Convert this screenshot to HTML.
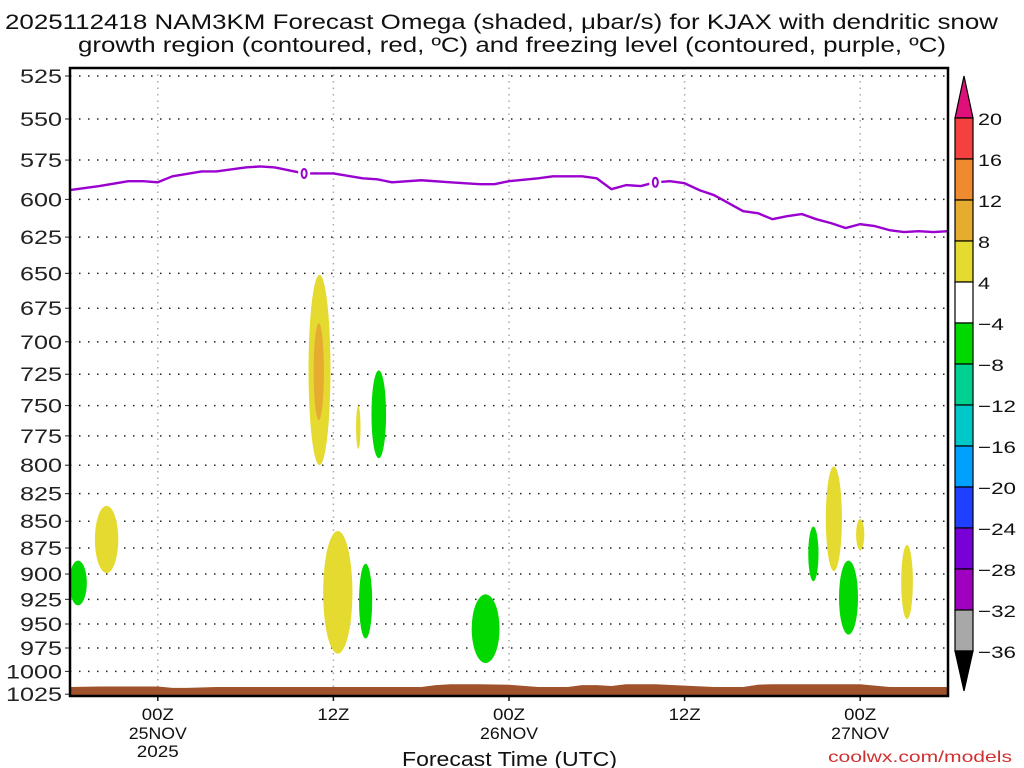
<!DOCTYPE html>
<html><head><meta charset="utf-8"><style>
html,body{margin:0;padding:0;background:#fff;width:1024px;height:768px;overflow:hidden}
svg text{font-family:"Liberation Sans",sans-serif}
</style></head><body>
<svg id="chart" width="1024" height="768" viewBox="0 0 1024 768" xmlns="http://www.w3.org/2000/svg">
<text x="5" y="29" font-size="21" textLength="993" lengthAdjust="spacingAndGlyphs" fill="#111">2025112418 NAM3KM Forecast Omega (shaded, μbar/s) for KJAX with dendritic snow</text>
<text x="78" y="52" font-size="21" textLength="868" lengthAdjust="spacingAndGlyphs" fill="#111">growth region (contoured, red, ºC) and freezing level (contoured, purple, ºC)</text>
<g id="grid"></g><g id="marks"></g><g id="axes"></g><g id="cbar"></g>
<text x="402" y="766" font-size="20" textLength="215" lengthAdjust="spacingAndGlyphs" fill="#111">Forecast Time (UTC)</text>
<text x="828" y="762" font-size="16" textLength="184" lengthAdjust="spacingAndGlyphs" fill="#d03030">coolwx.com/models</text>
</svg>
<script>
const pTicks=[525,550,575,600,625,650,675,700,725,750,775,800,825,850,875,900,925,950,975,1000,1025];
const timeTickHours=[6,18,30,42,54];
const timeTickLabels=["00Z","12Z","00Z","12Z","00Z"];
const timeTickDates=["25NOV","","26NOV","","27NOV"];
const flHours=[0,2,4,5,6,7,9,10,12,13,14,16,18,20,21,22,24,26,28,29,30,32,33,35,36,37,38,39,40,41,42,43,44,45,46,47,48,49,50,51,52,53,54,55,56,57,58,59,60];
const flPressure=[594,591.4,588.3,588.3,589,585.2,582.1,582.1,579.6,579,579.6,583.4,583.4,586.5,587.1,589,587.7,589,590.2,590.2,588.3,586.5,585.2,585.2,586.5,593.4,590.8,591.4,589,588.3,589.6,594,597.2,602.4,607.7,609,613,611,609.6,613,615.6,618.9,616.3,617.6,620.3,621.6,621,621.6,621];
const flLabelHours=[16,40];
const blobHour=[0.55,2.5,17.05,17.0,19.7,21.1,18.3,20.2,28.4,52.2,50.8,54.0,53.2,57.2];
const blobHalfWidth=[0.6,0.8,0.75,0.35,0.15,0.5,1.0,0.45,0.95,0.55,0.35,0.28,0.65,0.4];
const blobPTop=[887,836,651,686,750,722,859,890,920,801,855,848,887,872];
const blobPBot=[931,899,800,762,786,794,981,965,991,897,907,877,961,945];
const blobOmega=[-6,6,6,10,6,-6,6,-6,-6,6,-6,6,-6,6];
const sfcHours=[0,2,4,6,7,8,10,12,14,16,18,20,22,24,25,26,28,30,32,34,35,36,37,38,40,42,44,46,47,48,50,52,54,55,56,58,60];
const sfcPressure=[1017,1016.5,1016.5,1016.5,1018,1018,1017,1017,1017,1017,1017,1017,1017,1017,1015,1014,1014,1014.5,1017,1017,1015,1015,1016,1014,1014,1015.5,1017,1017,1014.5,1014,1014,1014,1014,1015.5,1017,1017,1017];
const cbarLevels=[20,16,12,8,4,-4,-8,-12,-16,-20,-24,-28,-32,-36];
const cbarColors=["#f54040","#f08a2e","#e5ac30","#e5da30","#ffffff","#00d800","#00d090","#00c8c8","#00a0ff","#2040ff","#7a00d8","#a000c0","#a8a8a8"];
const NS="http://www.w3.org/2000/svg";
const X0=70,X1=948,Y0=68,Y1=696,H0=0,H1=60;
const xs=h=>X0+(h-H0)/(H1-H0)*(X1-X0);
const ys=p=>76+Math.log(p/525)*924;
function mk(tag,attrs,parent){const e=document.createElementNS(NS,tag);for(const k in attrs)e.setAttribute(k,attrs[k]);parent.appendChild(e);return e;}
function colorFor(w){if(w>=20)return"#e0107a";if(w>=16)return cbarColors[0];if(w>=12)return cbarColors[1];if(w>=8)return cbarColors[2];if(w>=4)return cbarColors[3];if(w>-4)return"#fff";if(w>-8)return cbarColors[5];if(w>-12)return cbarColors[6];return cbarColors[7];}
const grid=document.getElementById('grid'),marks=document.getElementById('marks'),axes=document.getElementById('axes'),cbar=document.getElementById('cbar');
pTicks.forEach(p=>{const y=ys(p);
 const l=mk('line',{x1:X0,x2:X1,y1:y,y2:y,stroke:'#222','stroke-width':1.5,'stroke-dasharray':'1.5 7.5'},grid);
 
 const t=mk('line',{x1:X0-5,x2:X0,y1:y,y2:y,stroke:'#222','stroke-width':1},axes);
 
 const s=String(p);const w=s.length*14;
 const tx=mk('text',{x:X0-8-w,y:y+7,'font-size':19,textLength:w,lengthAdjust:'spacingAndGlyphs',fill:'#222'},axes);tx.textContent=s;
 });
timeTickHours.forEach((h,i)=>{const x=xs(h);
 const l=mk('line',{x1:x,x2:x,y1:Y0,y2:Y1,stroke:'#aaa','stroke-width':1.5,'stroke-dasharray':'1.5 5'},grid);
 
 const t=mk('line',{x1:x,x2:x,y1:Y1,y2:Y1+5,stroke:'#111','stroke-width':1.5},axes);
 
 const a=mk('text',{x:x-16,y:720,'font-size':17,textLength:32,lengthAdjust:'spacingAndGlyphs',fill:'#111'},axes);a.textContent=timeTickLabels[i];
 
 if(timeTickDates[i]){const b=mk('text',{x:x-29,y:739,'font-size':17,textLength:58,lengthAdjust:'spacingAndGlyphs',fill:'#111'},axes);b.textContent=timeTickDates[i];
 }});
const yr=mk('text',{x:xs(6)-21,y:757,'font-size':17,textLength:42,lengthAdjust:'spacingAndGlyphs',fill:'#111'},axes);yr.textContent='2025';

blobHour.forEach((h,i)=>{const cx=xs(h),rx=Math.max(1.5,blobHalfWidth[i]*(X1-X0)/(H1-H0));
 const yt=ys(blobPTop[i]),yb=ys(blobPBot[i]);
 const e=mk('ellipse',{cx:cx,cy:(yt+yb)/2,rx:rx,ry:(yb-yt)/2,fill:colorFor(blobOmega[i])},marks);
 });
let d='M'+xs(sfcHours[0])+','+Y1;sfcHours.forEach((h,i)=>{d+=' L'+xs(h)+','+ys(sfcPressure[i]);});d+=' L'+xs(sfcHours[sfcHours.length-1])+','+Y1+' Z';
const terr=mk('path',{d:d,fill:'#a0522d'},marks);

let fd='';flHours.forEach((h,i)=>{fd+=(i?' L':'M')+xs(h)+','+ys(flPressure[i]);});
const fl=mk('path',{d:fd,fill:'none',stroke:'#9a00d0','stroke-width':2.4,'stroke-linejoin':'round'},marks);

flLabelHours.forEach(h=>{let k=0;for(let i=0;i<flHours.length;i++)if(Math.abs(flHours[i]-h)<Math.abs(flHours[k]-h))k=i;
 const x=xs(h),y=ys(flPressure[k]);mk('rect',{x:x-6,y:y-7,width:12,height:14,fill:'#fff'},marks);
 const t=mk('ellipse',{cx:x,cy:y,rx:2.5,ry:4.5,fill:'none',stroke:'#9a00d0','stroke-width':2},marks);
 });
const frame=mk('rect',{x:X0,y:Y0,width:X1-X0,height:Y1-Y0,fill:'none',stroke:'#000','stroke-width':2.5},axes);

const CX=955,CW=18,CT=118,CB=651,step=(CB-CT)/(cbarLevels.length-1);
const up=mk('polygon',{points:`${CX},${CT} ${CX+CW},${CT} ${CX+CW/2},${CT-42}`,fill:'#e0107a',stroke:'#000','stroke-width':1.2},cbar);

cbarColors.forEach((c,i)=>{const r=mk('rect',{x:CX,y:CT+i*step,width:CW,height:step,fill:c,stroke:'#000','stroke-width':1.2},cbar);
 });
const dn=mk('polygon',{points:`${CX},${CB} ${CX+CW},${CB} ${CX+CW/2},${CB+40}`,fill:'#000',stroke:'#000','stroke-width':1.2},cbar);

cbarLevels.forEach((v,i)=>{const s=v<0?'\u2212'+Math.abs(v):String(v);const w=v<0?(s.length-1)*12+14:s.length*12;
 const t=mk('text',{x:CX+CW+5,y:CT+i*step+7,'font-size':17,textLength:w,lengthAdjust:'spacingAndGlyphs',fill:'#111'},cbar);
 t.textContent=s;
 });
</script>
</body></html>
